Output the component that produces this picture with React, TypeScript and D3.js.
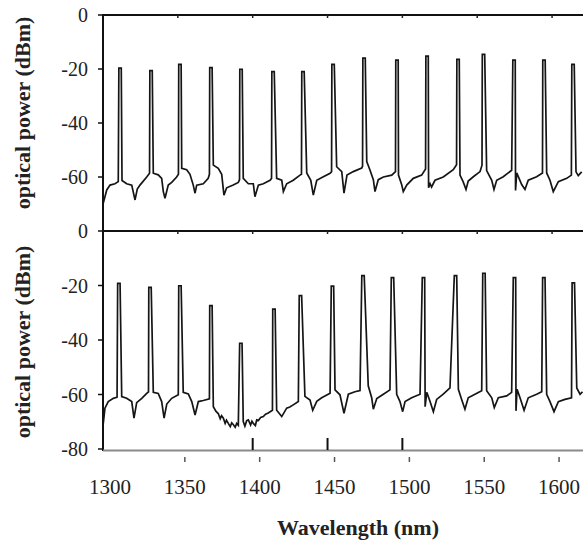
import React from "react";
import * as d3 from "d3";

// wavelength grid and axis labels
const xTicks = [1300, 1350, 1400, 1450, 1500, 1550, 1600];
const innerTicks = [1400, 1450, 1500];
const yTicksTop = [0, -20, -40, -60];
const yTicksBottom = [0, -20, -40, -60, -80];

// channel peaks (nm, dBm)
const topPeakWl = [1311.4, 1332.1, 1351.4, 1372.1, 1392.2, 1413.6, 1433.6, 1453.7, 1474.4, 1496.4, 1516.5, 1537.2, 1554.2, 1574.6, 1594.6, 1614.0];
const topPeakDb = [-19.7, -20.6, -18.3, -19.5, -20.1, -21, -21, -18.3, -16, -16.7, -15.2, -16.4, -14.6, -16.7, -16.7, -18.3];

const bottomPeakWl = [1310.6, 1331.4, 1351.4, 1372.1, 1392.1, 1414.2, 1431.9, 1453.3, 1473.7, 1493.4, 1514.1, 1535.5, 1554.5, 1574.9, 1594.5, 1614.2];
const bottomPeakDb = [-19.2, -20.7, -20.1, -27.4, -41.2, -28.7, -23.7, -20.2, -16.4, -17.1, -17.1, -16.4, -15.5, -17.1, -17.1, -19];

// noise floor between channels (nm, dBm)
const topFloor: [number, number][] = [
  [1300.2, -69.6], [1302.5, -64.8], [1304.7, -63], [1308.0, -62.5], [1310.2, -61.7],
  [1312.7, -61.3], [1315.8, -62.5], [1319.2, -63], [1321.4, -68.5], [1322.9, -64.5], [1324.7, -63], [1329.2, -60], [1331.1, -58.6],
  [1333.6, -58.6], [1336.9, -59.2], [1339.2, -60.5], [1340.3, -65.4], [1341.4, -67.9], [1343.6, -63], [1345.9, -62], [1349.2, -60], [1350.4, -59],
  [1352.6, -56.8], [1355.9, -57.3], [1358.1, -59], [1360.3, -63], [1361.5, -66], [1362.6, -63], [1367.0, -62.5], [1370.3, -60.5], [1371.1, -59],
  [1373.7, -55.6], [1377.0, -56.8], [1379.3, -59], [1380.8, -66.7], [1382.6, -64], [1387.0, -63], [1390.4, -62], [1391.2, -61],
  [1393.7, -60.5], [1397.1, -62.5], [1400.4, -62.5], [1401.5, -67.3], [1403.8, -63], [1407.1, -62.5], [1411.6, -61.2], [1412.6, -60.5],
  [1416.0, -60.5], [1419.4, -61.2], [1420.5, -65.4], [1422.7, -62.5], [1427.1, -61.2], [1431.6, -59.3], [1432.6, -59],
  [1436.1, -58.5], [1438.8, -61.2], [1440.5, -66.7], [1442.8, -61.2], [1447.2, -59.9], [1451.7, -58.6], [1452.7, -58],
  [1456.1, -56.2], [1459.5, -58], [1461.0, -66], [1463.0, -59.3], [1467.2, -58], [1472.8, -56.7], [1473.4, -56],
  [1476.2, -54.3], [1478.4, -57.5], [1480.6, -61], [1481.7, -65.4], [1483.9, -61], [1487.3, -60], [1492.9, -59.3], [1495.4, -58],
  [1497.4, -59.3], [1499.6, -63], [1500.6, -65.4], [1502.9, -63], [1507.3, -60.5], [1512.9, -59.3], [1515.5, -57],
  [1517.5, -64], [1518.5, -62.5], [1519.5, -63.7], [1521.8, -61.2], [1527.3, -60], [1534.0, -57.3], [1536.2, -55.5],
  [1538.5, -59.3], [1540.7, -61.9], [1542.5, -64.6], [1544.0, -61.5], [1547.4, -59.9], [1551.9, -58], [1553.2, -55.6],
  [1556.3, -57.6], [1559.7, -61.2], [1561.2, -64.6], [1563.0, -61.2], [1567.4, -59.9], [1573.0, -57.5],
  [1575.6, -65], [1576.4, -58.5], [1579.7, -62.8], [1581.9, -64.6], [1584.1, -61.2], [1589.7, -59.9], [1593.6, -58.5],
  [1596.4, -58.5], [1598.6, -61.2], [1600.8, -65.4], [1604.2, -61.7], [1609.8, -60.5], [1612.9, -59.3],
  [1616.0, -58.1], [1617.5, -59.5], [1619.8, -58.1],
];

const bottomFloor: [number, number][] = [
  [1300.2, -70.6], [1301.3, -65], [1303.5, -62.6], [1306.9, -61.4], [1309.4, -61],
  [1312.5, -60.8], [1315.8, -61.4], [1319.2, -62.6], [1320.7, -68.7], [1322.5, -63], [1325.9, -61.4], [1329.2, -59.6], [1330.4, -59],
  [1333.6, -59.2], [1336.9, -59.6], [1339.2, -62.6], [1340.8, -68.7], [1342.6, -63.5], [1345.9, -61.4], [1350.3, -60.1],
  [1353.6, -59.2], [1357.0, -59.8], [1359.3, -62.6], [1361.5, -67.5], [1363.7, -62.6], [1367.0, -62.2], [1371.1, -61.6],
  [1373.7, -64.5], [1375.5, -66.2], [1377.0, -67], [1378.3, -68.9], [1379.2, -67.8], [1380.4, -68.7], [1381.6, -70.6], [1382.5, -69.4],
  [1383.7, -70.6], [1385.0, -71.8], [1386.0, -70.4], [1387.0, -71], [1388.3, -72], [1389.3, -70.6], [1390.4, -71.3],
  [1393.7, -69.9], [1394.8, -71.6], [1396.0, -69.6], [1397.1, -69.3], [1398.6, -71.2], [1399.5, -69.8], [1400.4, -70.6],
  [1401.8, -71.4], [1402.7, -69.3], [1403.8, -69.5], [1405.3, -68.4], [1407.1, -68.1], [1408.6, -67.2], [1410.4, -66.8], [1413.2, -65.8],
  [1416.0, -65.8], [1417.8, -67], [1419.4, -68.1], [1422.7, -65], [1424.8, -64.6], [1427.1, -63.8], [1430.5, -62.6],
  [1434.9, -60.7], [1438.3, -62], [1440.1, -65.8], [1442.8, -62.5], [1446.1, -61.2], [1451.7, -59.5],
  [1455.0, -58.3], [1458.3, -60.1], [1461.0, -66.9], [1463.9, -59.9], [1468.3, -59], [1471.7, -58.6],
  [1477.2, -56.8], [1479.5, -61.2], [1480.6, -65.4], [1482.9, -61.5], [1487.3, -59.9], [1491.7, -58.3],
  [1496.2, -59.9], [1498.4, -62.6], [1500.2, -66.3], [1501.8, -62.6], [1506.2, -61.2], [1511.8, -59.9],
  [1515.2, -64.5], [1516.3, -59.2], [1518.5, -62.6], [1520.7, -66.3], [1522.9, -61.8], [1527.3, -59.9], [1531.8, -57.6],
  [1537.4, -58.1], [1539.6, -61.8], [1541.8, -65.4], [1544.0, -61.2], [1548.5, -59.9], [1553.0, -58.6],
  [1556.3, -58.6], [1559.7, -61.2], [1561.4, -64.8], [1564.1, -61.2], [1569.7, -60.5], [1573.0, -59.2],
  [1575.9, -66], [1576.6, -58.1], [1578.6, -61.2], [1581.3, -65.8], [1584.1, -61.2], [1589.7, -59.9], [1593.1, -59],
  [1596.4, -59.9], [1598.6, -62.6], [1601.3, -66.3], [1604.2, -62.6], [1608.6, -61.8], [1613.0, -61.2],
  [1616.5, -57.6], [1618.7, -59.9], [1620.3, -59],
];

const W = 583;
const H = 542;
const left = 103;
const right = 582;
const top1 = 15;
const mid = 231;
const bottom2 = 449;
const labelShift = 7; // bottom labels sit a little right of the frame ticks
const spikeHalf = 0.8; // half width of a channel spike, nm
const serif = "'Liberation Serif', 'DejaVu Serif', serif";

function trace(floor: [number, number][], wl: number[], db: number[]) {
  const spikes: [number, number][] = wl.flatMap((w, i) => [
    [w - spikeHalf, db[i]] as [number, number],
    [w + spikeHalf, db[i]] as [number, number],
  ]);
  return [...floor, ...spikes].sort((a, b) => a[0] - b[0]);
}

function Panel({ y, floor, wl, db, clipId }) {
  const x = d3.scaleLinear().domain([1300, 1620]).range([left, right]);
  const line = d3
    .line<[number, number]>()
    .x(d => x(d[0]))
    .y(d => y(d[1]));
  const [y0, y1] = y.range();
  return (
    <g>
      <clipPath id={clipId}>
        <rect x={left} y={Math.min(y0, y1)} width={right - left + 2} height={Math.abs(y0 - y1)} />
      </clipPath>
      <path
        d={line(trace(floor, wl, db)) || ""}
        fill="none"
        stroke="#151515"
        strokeWidth={1.7}
        strokeLinejoin="miter"
        clipPath={`url(#${clipId})`}
      />
    </g>
  );
}

export default function App() {
  const x = d3.scaleLinear().domain([1300, 1620]).range([left, right]);
  const yTop = d3.scaleLinear().domain([-80, 0]).range([mid, top1]);
  const yBot = d3.scaleLinear().domain([-80, 0]).range([bottom2, mid]);

  return (
    <svg
      width={W}
      height={H}
      style={{ position: "absolute", left: 0, top: 0, background: "#fff", fontFamily: serif }}
    >
      <Panel y={yTop} floor={topFloor} wl={topPeakWl} db={topPeakDb} clipId="c1" />
      <Panel y={yBot} floor={bottomFloor} wl={bottomPeakWl} db={bottomPeakDb} clipId="c2" />

      {/* frame */}
      <line x1={left} x2={W} y1={top1} y2={top1} stroke="#111" strokeWidth={2} />
      <line x1={left} x2={W} y1={mid} y2={mid} stroke="#111" strokeWidth={2} />
      <line x1={left} x2={left} y1={top1 - 1} y2={bottom2 + 2} stroke="#111" strokeWidth={2} />
      <line x1={left} x2={W} y1={bottom2 + 1.5} y2={bottom2 + 1.5} stroke="#8a8a8a" strokeWidth={2} />

      {/* top-edge ticks */}
      {xTicks.slice(1).map(v => (
        <g key={"tt" + v}>
          <line x1={x(v)} x2={x(v)} y1={top1} y2={top1 + 3} stroke="#222" strokeWidth={1.5} />
          <line x1={x(v)} x2={x(v)} y1={mid} y2={mid + 3} stroke="#222" strokeWidth={1.5} />
        </g>
      ))}
      {innerTicks.map(v => (
        <line key={"it" + v} x1={x(v)} x2={x(v)} y1={bottom2 - 11} y2={bottom2 + 1} stroke="#111" strokeWidth={2} />
      ))}

      {/* y axis ticks and labels */}
      {yTicksTop.map(v => (
        <g key={"yt" + v}>
          <line x1={left - 5} x2={left} y1={yTop(v)} y2={yTop(v)} stroke="#111" strokeWidth={1.5} />
          <text x={88} y={yTop(v)} dy="0.35em" textAnchor="end" fontSize={20} fill="#222">
            {v}
          </text>
        </g>
      ))}
      {yTicksBottom.map(v => (
        <g key={"yb" + v}>
          <line x1={left - 5} x2={left} y1={yBot(v)} y2={yBot(v)} stroke="#111" strokeWidth={1.5} />
          <text x={88} y={yBot(v)} dy="0.35em" textAnchor="end" fontSize={20} fill="#222">
            {v}
          </text>
        </g>
      ))}

      {/* x axis ticks and labels */}
      {xTicks.map(v => (
        <g key={"xb" + v}>
          {v > 1300 && (
            <line
              x1={x(v) + labelShift}
              x2={x(v) + labelShift}
              y1={bottom2 + 8}
              y2={bottom2 + 13}
              stroke="#555"
              strokeWidth={1.5}
            />
          )}
          <text x={x(v) + labelShift} y={494} textAnchor="middle" fontSize={21} fill="#222">
            {v}
          </text>
        </g>
      ))}

      {/* axis titles */}
      <text x={358} y={535} textAnchor="middle" fontSize={22} fontWeight="bold" fill="#222">
        Wavelength (nm)
      </text>
      <text
        transform={`translate(30, ${(top1 + mid) / 2 - 10}) rotate(-90)`}
        textAnchor="middle"
        fontSize={22}
        fontWeight="bold"
        fill="#222"
      >
        optical power (dBm)
      </text>
      <text
        transform={`translate(30, ${(mid + bottom2) / 2 + 2}) rotate(-90)`}
        textAnchor="middle"
        fontSize={22}
        fontWeight="bold"
        fill="#222"
      >
        optical power (dBm)
      </text>
    </svg>
  );
}
